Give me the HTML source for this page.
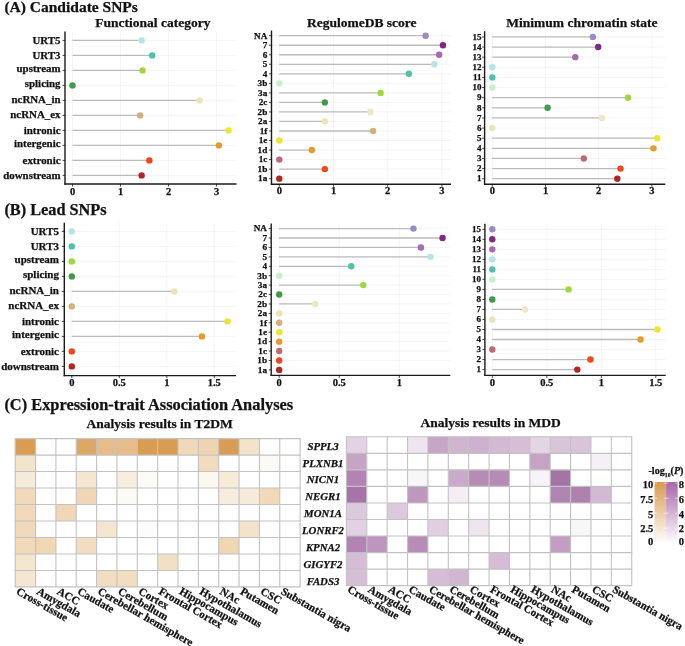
<!DOCTYPE html>
<html><head><meta charset="utf-8"><style>
html,body{margin:0;padding:0;background:#fff;width:685px;height:646px;overflow:hidden}
svg{display:block;filter:blur(0.3px)}
text{font-family:"Liberation Serif", serif;font-weight:bold;fill:#111;stroke:#111;stroke-width:0.25px}
</style></head><body>
<svg width="685" height="646" viewBox="0 0 685 646">
<rect width="685" height="646" fill="#fff"/>
<text x="4.4" y="12.3" font-size="15.5">(A) Candidate SNPs</text>
<text x="4.4" y="214.5" font-size="16.3">(B) Lead SNPs</text>
<text x="4.4" y="409.9" font-size="16.4">(C) Expression-trait Association Analyses</text>
<line x1="72.50" y1="31.50" x2="72.50" y2="184.00" stroke="#F0F0F0" stroke-width="0.7"/>
<line x1="120.50" y1="31.50" x2="120.50" y2="184.00" stroke="#F0F0F0" stroke-width="0.7"/>
<line x1="168.50" y1="31.50" x2="168.50" y2="184.00" stroke="#F0F0F0" stroke-width="0.7"/>
<line x1="216.50" y1="31.50" x2="216.50" y2="184.00" stroke="#F0F0F0" stroke-width="0.7"/>
<line x1="65.00" y1="40.40" x2="236.50" y2="40.40" stroke="#F0F0F0" stroke-width="0.7"/>
<line x1="65.00" y1="55.40" x2="236.50" y2="55.40" stroke="#F0F0F0" stroke-width="0.7"/>
<line x1="65.00" y1="70.40" x2="236.50" y2="70.40" stroke="#F0F0F0" stroke-width="0.7"/>
<line x1="65.00" y1="85.40" x2="236.50" y2="85.40" stroke="#F0F0F0" stroke-width="0.7"/>
<line x1="65.00" y1="100.40" x2="236.50" y2="100.40" stroke="#F0F0F0" stroke-width="0.7"/>
<line x1="65.00" y1="115.40" x2="236.50" y2="115.40" stroke="#F0F0F0" stroke-width="0.7"/>
<line x1="65.00" y1="130.40" x2="236.50" y2="130.40" stroke="#F0F0F0" stroke-width="0.7"/>
<line x1="65.00" y1="145.40" x2="236.50" y2="145.40" stroke="#F0F0F0" stroke-width="0.7"/>
<line x1="65.00" y1="160.40" x2="236.50" y2="160.40" stroke="#F0F0F0" stroke-width="0.7"/>
<line x1="65.00" y1="175.40" x2="236.50" y2="175.40" stroke="#F0F0F0" stroke-width="0.7"/>
<line x1="72.50" y1="40.40" x2="141.62" y2="40.40" stroke="#BBBBBB" stroke-width="1.3"/>
<circle cx="141.62" cy="40.40" r="3.2" fill="#B5E5E6"/>
<line x1="72.50" y1="55.40" x2="152.18" y2="55.40" stroke="#BBBBBB" stroke-width="1.3"/>
<circle cx="152.18" cy="55.40" r="3.2" fill="#4FC1AA"/>
<line x1="72.50" y1="70.40" x2="142.58" y2="70.40" stroke="#BBBBBB" stroke-width="1.3"/>
<circle cx="142.58" cy="70.40" r="3.2" fill="#9ED93A"/>
<circle cx="72.50" cy="85.40" r="3.2" fill="#3F9A4C"/>
<line x1="72.50" y1="100.40" x2="199.70" y2="100.40" stroke="#BBBBBB" stroke-width="1.3"/>
<circle cx="199.70" cy="100.40" r="3.2" fill="#EDE3B8"/>
<line x1="72.50" y1="115.40" x2="140.18" y2="115.40" stroke="#BBBBBB" stroke-width="1.3"/>
<circle cx="140.18" cy="115.40" r="3.2" fill="#D4B07E"/>
<line x1="72.50" y1="130.40" x2="228.50" y2="130.40" stroke="#BBBBBB" stroke-width="1.3"/>
<circle cx="228.50" cy="130.40" r="3.2" fill="#EAE632"/>
<line x1="72.50" y1="145.40" x2="218.90" y2="145.40" stroke="#BBBBBB" stroke-width="1.3"/>
<circle cx="218.90" cy="145.40" r="3.2" fill="#E99A2C"/>
<line x1="72.50" y1="160.40" x2="149.30" y2="160.40" stroke="#BBBBBB" stroke-width="1.3"/>
<circle cx="149.30" cy="160.40" r="3.2" fill="#F2451C"/>
<line x1="72.50" y1="175.40" x2="141.62" y2="175.40" stroke="#BBBBBB" stroke-width="1.3"/>
<circle cx="141.62" cy="175.40" r="3.2" fill="#B22525"/>
<line x1="65.00" y1="31.50" x2="65.00" y2="184.70" stroke="#1a1a1a" stroke-width="1.4"/>
<line x1="64.30" y1="184.00" x2="236.50" y2="184.00" stroke="#1a1a1a" stroke-width="1.4"/>
<line x1="62.50" y1="40.40" x2="65.00" y2="40.40" stroke="#1a1a1a" stroke-width="0.8"/>
<text x="60.50" y="43.72" font-size="10.9" text-anchor="end">URT5</text>
<line x1="62.50" y1="55.40" x2="65.00" y2="55.40" stroke="#1a1a1a" stroke-width="0.8"/>
<text x="60.50" y="58.72" font-size="10.9" text-anchor="end">URT3</text>
<line x1="62.50" y1="70.40" x2="65.00" y2="70.40" stroke="#1a1a1a" stroke-width="0.8"/>
<text x="60.50" y="71.71" font-size="10.9" text-anchor="end">upstream</text>
<line x1="62.50" y1="85.40" x2="65.00" y2="85.40" stroke="#1a1a1a" stroke-width="0.8"/>
<text x="60.50" y="86.71" font-size="10.9" text-anchor="end">splicing</text>
<line x1="62.50" y1="100.40" x2="65.00" y2="100.40" stroke="#1a1a1a" stroke-width="0.8"/>
<text x="60.50" y="102.96" font-size="10.9" text-anchor="end">ncRNA_in</text>
<line x1="62.50" y1="115.40" x2="65.00" y2="115.40" stroke="#1a1a1a" stroke-width="0.8"/>
<text x="60.50" y="117.96" font-size="10.9" text-anchor="end">ncRNA_ex</text>
<line x1="62.50" y1="130.40" x2="65.00" y2="130.40" stroke="#1a1a1a" stroke-width="0.8"/>
<text x="60.50" y="133.72" font-size="10.9" text-anchor="end">intronic</text>
<line x1="62.50" y1="145.40" x2="65.00" y2="145.40" stroke="#1a1a1a" stroke-width="0.8"/>
<text x="60.50" y="146.71" font-size="10.9" text-anchor="end">intergenic</text>
<line x1="62.50" y1="160.40" x2="65.00" y2="160.40" stroke="#1a1a1a" stroke-width="0.8"/>
<text x="60.50" y="163.72" font-size="10.9" text-anchor="end">extronic</text>
<line x1="62.50" y1="175.40" x2="65.00" y2="175.40" stroke="#1a1a1a" stroke-width="0.8"/>
<text x="60.50" y="178.72" font-size="10.9" text-anchor="end">downstream</text>
<line x1="72.50" y1="184.00" x2="72.50" y2="186.50" stroke="#1a1a1a" stroke-width="0.8"/>
<text x="72.50" y="195.00" font-size="10.5" text-anchor="middle">0</text>
<line x1="120.50" y1="184.00" x2="120.50" y2="186.50" stroke="#1a1a1a" stroke-width="0.8"/>
<text x="120.50" y="195.00" font-size="10.5" text-anchor="middle">1</text>
<line x1="168.50" y1="184.00" x2="168.50" y2="186.50" stroke="#1a1a1a" stroke-width="0.8"/>
<text x="168.50" y="195.00" font-size="10.5" text-anchor="middle">2</text>
<line x1="216.50" y1="184.00" x2="216.50" y2="186.50" stroke="#1a1a1a" stroke-width="0.8"/>
<text x="216.50" y="195.00" font-size="10.5" text-anchor="middle">3</text>
<text x="152.90" y="26.80" font-size="13.5" text-anchor="middle">Functional category</text>
<line x1="279.30" y1="30.50" x2="279.30" y2="184.30" stroke="#F0F0F0" stroke-width="0.7"/>
<line x1="333.50" y1="30.50" x2="333.50" y2="184.30" stroke="#F0F0F0" stroke-width="0.7"/>
<line x1="387.70" y1="30.50" x2="387.70" y2="184.30" stroke="#F0F0F0" stroke-width="0.7"/>
<line x1="441.90" y1="30.50" x2="441.90" y2="184.30" stroke="#F0F0F0" stroke-width="0.7"/>
<line x1="271.50" y1="35.70" x2="451.00" y2="35.70" stroke="#F0F0F0" stroke-width="0.7"/>
<line x1="271.50" y1="45.23" x2="451.00" y2="45.23" stroke="#F0F0F0" stroke-width="0.7"/>
<line x1="271.50" y1="54.76" x2="451.00" y2="54.76" stroke="#F0F0F0" stroke-width="0.7"/>
<line x1="271.50" y1="64.29" x2="451.00" y2="64.29" stroke="#F0F0F0" stroke-width="0.7"/>
<line x1="271.50" y1="73.82" x2="451.00" y2="73.82" stroke="#F0F0F0" stroke-width="0.7"/>
<line x1="271.50" y1="83.35" x2="451.00" y2="83.35" stroke="#F0F0F0" stroke-width="0.7"/>
<line x1="271.50" y1="92.88" x2="451.00" y2="92.88" stroke="#F0F0F0" stroke-width="0.7"/>
<line x1="271.50" y1="102.41" x2="451.00" y2="102.41" stroke="#F0F0F0" stroke-width="0.7"/>
<line x1="271.50" y1="111.94" x2="451.00" y2="111.94" stroke="#F0F0F0" stroke-width="0.7"/>
<line x1="271.50" y1="121.47" x2="451.00" y2="121.47" stroke="#F0F0F0" stroke-width="0.7"/>
<line x1="271.50" y1="131.00" x2="451.00" y2="131.00" stroke="#F0F0F0" stroke-width="0.7"/>
<line x1="271.50" y1="140.53" x2="451.00" y2="140.53" stroke="#F0F0F0" stroke-width="0.7"/>
<line x1="271.50" y1="150.06" x2="451.00" y2="150.06" stroke="#F0F0F0" stroke-width="0.7"/>
<line x1="271.50" y1="159.59" x2="451.00" y2="159.59" stroke="#F0F0F0" stroke-width="0.7"/>
<line x1="271.50" y1="169.12" x2="451.00" y2="169.12" stroke="#F0F0F0" stroke-width="0.7"/>
<line x1="271.50" y1="178.65" x2="451.00" y2="178.65" stroke="#F0F0F0" stroke-width="0.7"/>
<line x1="279.30" y1="35.70" x2="425.64" y2="35.70" stroke="#BBBBBB" stroke-width="1.3"/>
<circle cx="425.64" cy="35.70" r="3.2" fill="#9D89C5"/>
<line x1="279.30" y1="45.23" x2="442.98" y2="45.23" stroke="#BBBBBB" stroke-width="1.3"/>
<circle cx="442.98" cy="45.23" r="3.2" fill="#7E2A7E"/>
<line x1="279.30" y1="54.76" x2="439.19" y2="54.76" stroke="#BBBBBB" stroke-width="1.3"/>
<circle cx="439.19" cy="54.76" r="3.2" fill="#A86AAE"/>
<line x1="279.30" y1="64.29" x2="434.31" y2="64.29" stroke="#BBBBBB" stroke-width="1.3"/>
<circle cx="434.31" cy="64.29" r="3.2" fill="#B5E5E6"/>
<line x1="279.30" y1="73.82" x2="408.84" y2="73.82" stroke="#BBBBBB" stroke-width="1.3"/>
<circle cx="408.84" cy="73.82" r="3.2" fill="#4FC1AA"/>
<circle cx="279.30" cy="83.35" r="3.2" fill="#C8EFCF"/>
<line x1="279.30" y1="92.88" x2="380.65" y2="92.88" stroke="#BBBBBB" stroke-width="1.3"/>
<circle cx="380.65" cy="92.88" r="3.2" fill="#9ED93A"/>
<line x1="279.30" y1="102.41" x2="324.83" y2="102.41" stroke="#BBBBBB" stroke-width="1.3"/>
<circle cx="324.83" cy="102.41" r="3.2" fill="#3F9A4C"/>
<line x1="279.30" y1="111.94" x2="370.36" y2="111.94" stroke="#BBBBBB" stroke-width="1.3"/>
<circle cx="370.36" cy="111.94" r="3.2" fill="#F4E4C4"/>
<line x1="279.30" y1="121.47" x2="324.83" y2="121.47" stroke="#BBBBBB" stroke-width="1.3"/>
<circle cx="324.83" cy="121.47" r="3.2" fill="#EDE3B8"/>
<line x1="279.30" y1="131.00" x2="373.07" y2="131.00" stroke="#BBBBBB" stroke-width="1.3"/>
<circle cx="373.07" cy="131.00" r="3.2" fill="#D4B07E"/>
<circle cx="279.30" cy="140.53" r="3.2" fill="#EAE632"/>
<line x1="279.30" y1="150.06" x2="311.82" y2="150.06" stroke="#BBBBBB" stroke-width="1.3"/>
<circle cx="311.82" cy="150.06" r="3.2" fill="#E99A2C"/>
<circle cx="279.30" cy="159.59" r="3.2" fill="#BF6A72"/>
<line x1="279.30" y1="169.12" x2="324.83" y2="169.12" stroke="#BBBBBB" stroke-width="1.3"/>
<circle cx="324.83" cy="169.12" r="3.2" fill="#F2451C"/>
<circle cx="279.30" cy="178.65" r="3.2" fill="#B22525"/>
<line x1="271.50" y1="30.50" x2="271.50" y2="185.00" stroke="#1a1a1a" stroke-width="1.4"/>
<line x1="270.80" y1="184.30" x2="451.00" y2="184.30" stroke="#1a1a1a" stroke-width="1.4"/>
<line x1="269.00" y1="35.70" x2="271.50" y2="35.70" stroke="#1a1a1a" stroke-width="0.8"/>
<text x="267.30" y="38.51" font-size="9.2" text-anchor="end">NA</text>
<line x1="269.00" y1="45.23" x2="271.50" y2="45.23" stroke="#1a1a1a" stroke-width="0.8"/>
<text x="267.30" y="48.04" font-size="9.2" text-anchor="end">7</text>
<line x1="269.00" y1="54.76" x2="271.50" y2="54.76" stroke="#1a1a1a" stroke-width="0.8"/>
<text x="267.30" y="57.57" font-size="9.2" text-anchor="end">6</text>
<line x1="269.00" y1="64.29" x2="271.50" y2="64.29" stroke="#1a1a1a" stroke-width="0.8"/>
<text x="267.30" y="67.10" font-size="9.2" text-anchor="end">5</text>
<line x1="269.00" y1="73.82" x2="271.50" y2="73.82" stroke="#1a1a1a" stroke-width="0.8"/>
<text x="267.30" y="76.63" font-size="9.2" text-anchor="end">4</text>
<line x1="269.00" y1="83.35" x2="271.50" y2="83.35" stroke="#1a1a1a" stroke-width="0.8"/>
<text x="267.30" y="86.16" font-size="9.2" text-anchor="end">3b</text>
<line x1="269.00" y1="92.88" x2="271.50" y2="92.88" stroke="#1a1a1a" stroke-width="0.8"/>
<text x="267.30" y="95.69" font-size="9.2" text-anchor="end">3a</text>
<line x1="269.00" y1="102.41" x2="271.50" y2="102.41" stroke="#1a1a1a" stroke-width="0.8"/>
<text x="267.30" y="105.22" font-size="9.2" text-anchor="end">2c</text>
<line x1="269.00" y1="111.94" x2="271.50" y2="111.94" stroke="#1a1a1a" stroke-width="0.8"/>
<text x="267.30" y="114.75" font-size="9.2" text-anchor="end">2b</text>
<line x1="269.00" y1="121.47" x2="271.50" y2="121.47" stroke="#1a1a1a" stroke-width="0.8"/>
<text x="267.30" y="124.28" font-size="9.2" text-anchor="end">2a</text>
<line x1="269.00" y1="131.00" x2="271.50" y2="131.00" stroke="#1a1a1a" stroke-width="0.8"/>
<text x="267.30" y="133.81" font-size="9.2" text-anchor="end">1f</text>
<line x1="269.00" y1="140.53" x2="271.50" y2="140.53" stroke="#1a1a1a" stroke-width="0.8"/>
<text x="267.30" y="143.34" font-size="9.2" text-anchor="end">1e</text>
<line x1="269.00" y1="150.06" x2="271.50" y2="150.06" stroke="#1a1a1a" stroke-width="0.8"/>
<text x="267.30" y="152.87" font-size="9.2" text-anchor="end">1d</text>
<line x1="269.00" y1="159.59" x2="271.50" y2="159.59" stroke="#1a1a1a" stroke-width="0.8"/>
<text x="267.30" y="162.40" font-size="9.2" text-anchor="end">1c</text>
<line x1="269.00" y1="169.12" x2="271.50" y2="169.12" stroke="#1a1a1a" stroke-width="0.8"/>
<text x="267.30" y="171.93" font-size="9.2" text-anchor="end">1b</text>
<line x1="269.00" y1="178.65" x2="271.50" y2="178.65" stroke="#1a1a1a" stroke-width="0.8"/>
<text x="267.30" y="181.46" font-size="9.2" text-anchor="end">1a</text>
<line x1="279.30" y1="184.30" x2="279.30" y2="186.80" stroke="#1a1a1a" stroke-width="0.8"/>
<text x="279.30" y="194.00" font-size="10.5" text-anchor="middle">0</text>
<line x1="333.50" y1="184.30" x2="333.50" y2="186.80" stroke="#1a1a1a" stroke-width="0.8"/>
<text x="333.50" y="194.00" font-size="10.5" text-anchor="middle">1</text>
<line x1="387.70" y1="184.30" x2="387.70" y2="186.80" stroke="#1a1a1a" stroke-width="0.8"/>
<text x="387.70" y="194.00" font-size="10.5" text-anchor="middle">2</text>
<line x1="441.90" y1="184.30" x2="441.90" y2="186.80" stroke="#1a1a1a" stroke-width="0.8"/>
<text x="441.90" y="194.00" font-size="10.5" text-anchor="middle">3</text>
<text x="361.80" y="26.80" font-size="13.5" text-anchor="middle">RegulomeDB score</text>
<line x1="492.30" y1="31.20" x2="492.30" y2="184.30" stroke="#F0F0F0" stroke-width="0.7"/>
<line x1="545.50" y1="31.20" x2="545.50" y2="184.30" stroke="#F0F0F0" stroke-width="0.7"/>
<line x1="598.70" y1="31.20" x2="598.70" y2="184.30" stroke="#F0F0F0" stroke-width="0.7"/>
<line x1="651.90" y1="31.20" x2="651.90" y2="184.30" stroke="#F0F0F0" stroke-width="0.7"/>
<line x1="484.60" y1="36.90" x2="665.30" y2="36.90" stroke="#F0F0F0" stroke-width="0.7"/>
<line x1="484.60" y1="47.03" x2="665.30" y2="47.03" stroke="#F0F0F0" stroke-width="0.7"/>
<line x1="484.60" y1="57.16" x2="665.30" y2="57.16" stroke="#F0F0F0" stroke-width="0.7"/>
<line x1="484.60" y1="67.29" x2="665.30" y2="67.29" stroke="#F0F0F0" stroke-width="0.7"/>
<line x1="484.60" y1="77.42" x2="665.30" y2="77.42" stroke="#F0F0F0" stroke-width="0.7"/>
<line x1="484.60" y1="87.55" x2="665.30" y2="87.55" stroke="#F0F0F0" stroke-width="0.7"/>
<line x1="484.60" y1="97.68" x2="665.30" y2="97.68" stroke="#F0F0F0" stroke-width="0.7"/>
<line x1="484.60" y1="107.81" x2="665.30" y2="107.81" stroke="#F0F0F0" stroke-width="0.7"/>
<line x1="484.60" y1="117.94" x2="665.30" y2="117.94" stroke="#F0F0F0" stroke-width="0.7"/>
<line x1="484.60" y1="128.07" x2="665.30" y2="128.07" stroke="#F0F0F0" stroke-width="0.7"/>
<line x1="484.60" y1="138.20" x2="665.30" y2="138.20" stroke="#F0F0F0" stroke-width="0.7"/>
<line x1="484.60" y1="148.33" x2="665.30" y2="148.33" stroke="#F0F0F0" stroke-width="0.7"/>
<line x1="484.60" y1="158.46" x2="665.30" y2="158.46" stroke="#F0F0F0" stroke-width="0.7"/>
<line x1="484.60" y1="168.59" x2="665.30" y2="168.59" stroke="#F0F0F0" stroke-width="0.7"/>
<line x1="484.60" y1="178.72" x2="665.30" y2="178.72" stroke="#F0F0F0" stroke-width="0.7"/>
<line x1="492.30" y1="36.90" x2="592.85" y2="36.90" stroke="#BBBBBB" stroke-width="1.3"/>
<circle cx="592.85" cy="36.90" r="3.2" fill="#9D89C5"/>
<line x1="492.30" y1="47.03" x2="598.17" y2="47.03" stroke="#BBBBBB" stroke-width="1.3"/>
<circle cx="598.17" cy="47.03" r="3.2" fill="#7E2A7E"/>
<line x1="492.30" y1="57.16" x2="575.29" y2="57.16" stroke="#BBBBBB" stroke-width="1.3"/>
<circle cx="575.29" cy="57.16" r="3.2" fill="#A86AAE"/>
<circle cx="492.30" cy="67.29" r="3.2" fill="#B5E5E6"/>
<circle cx="492.30" cy="77.42" r="3.2" fill="#4FC1AA"/>
<circle cx="492.30" cy="87.55" r="3.2" fill="#C8EFCF"/>
<line x1="492.30" y1="97.68" x2="627.96" y2="97.68" stroke="#BBBBBB" stroke-width="1.3"/>
<circle cx="627.96" cy="97.68" r="3.2" fill="#9ED93A"/>
<line x1="492.30" y1="107.81" x2="547.63" y2="107.81" stroke="#BBBBBB" stroke-width="1.3"/>
<circle cx="547.63" cy="107.81" r="3.2" fill="#3F9A4C"/>
<line x1="492.30" y1="117.94" x2="601.89" y2="117.94" stroke="#BBBBBB" stroke-width="1.3"/>
<circle cx="601.89" cy="117.94" r="3.2" fill="#F4E4C4"/>
<circle cx="492.30" cy="128.07" r="3.2" fill="#EDE3B8"/>
<line x1="492.30" y1="138.20" x2="657.22" y2="138.20" stroke="#BBBBBB" stroke-width="1.3"/>
<circle cx="657.22" cy="138.20" r="3.2" fill="#EAE632"/>
<line x1="492.30" y1="148.33" x2="653.50" y2="148.33" stroke="#BBBBBB" stroke-width="1.3"/>
<circle cx="653.50" cy="148.33" r="3.2" fill="#E99A2C"/>
<line x1="492.30" y1="158.46" x2="583.80" y2="158.46" stroke="#BBBBBB" stroke-width="1.3"/>
<circle cx="583.80" cy="158.46" r="3.2" fill="#BF6A72"/>
<line x1="492.30" y1="168.59" x2="620.51" y2="168.59" stroke="#BBBBBB" stroke-width="1.3"/>
<circle cx="620.51" cy="168.59" r="3.2" fill="#F2451C"/>
<line x1="492.30" y1="178.72" x2="617.32" y2="178.72" stroke="#BBBBBB" stroke-width="1.3"/>
<circle cx="617.32" cy="178.72" r="3.2" fill="#B22525"/>
<line x1="484.60" y1="31.20" x2="484.60" y2="185.00" stroke="#1a1a1a" stroke-width="1.4"/>
<line x1="483.90" y1="184.30" x2="665.30" y2="184.30" stroke="#1a1a1a" stroke-width="1.4"/>
<line x1="482.10" y1="36.90" x2="484.60" y2="36.90" stroke="#1a1a1a" stroke-width="0.8"/>
<text x="481.40" y="39.64" font-size="9.0" text-anchor="end">15</text>
<line x1="482.10" y1="47.03" x2="484.60" y2="47.03" stroke="#1a1a1a" stroke-width="0.8"/>
<text x="481.40" y="49.77" font-size="9.0" text-anchor="end">14</text>
<line x1="482.10" y1="57.16" x2="484.60" y2="57.16" stroke="#1a1a1a" stroke-width="0.8"/>
<text x="481.40" y="59.90" font-size="9.0" text-anchor="end">13</text>
<line x1="482.10" y1="67.29" x2="484.60" y2="67.29" stroke="#1a1a1a" stroke-width="0.8"/>
<text x="481.40" y="70.03" font-size="9.0" text-anchor="end">12</text>
<line x1="482.10" y1="77.42" x2="484.60" y2="77.42" stroke="#1a1a1a" stroke-width="0.8"/>
<text x="481.40" y="80.17" font-size="9.0" text-anchor="end">11</text>
<line x1="482.10" y1="87.55" x2="484.60" y2="87.55" stroke="#1a1a1a" stroke-width="0.8"/>
<text x="481.40" y="90.30" font-size="9.0" text-anchor="end">10</text>
<line x1="482.10" y1="97.68" x2="484.60" y2="97.68" stroke="#1a1a1a" stroke-width="0.8"/>
<text x="481.40" y="100.43" font-size="9.0" text-anchor="end">9</text>
<line x1="482.10" y1="107.81" x2="484.60" y2="107.81" stroke="#1a1a1a" stroke-width="0.8"/>
<text x="481.40" y="110.56" font-size="9.0" text-anchor="end">8</text>
<line x1="482.10" y1="117.94" x2="484.60" y2="117.94" stroke="#1a1a1a" stroke-width="0.8"/>
<text x="481.40" y="120.69" font-size="9.0" text-anchor="end">7</text>
<line x1="482.10" y1="128.07" x2="484.60" y2="128.07" stroke="#1a1a1a" stroke-width="0.8"/>
<text x="481.40" y="130.81" font-size="9.0" text-anchor="end">6</text>
<line x1="482.10" y1="138.20" x2="484.60" y2="138.20" stroke="#1a1a1a" stroke-width="0.8"/>
<text x="481.40" y="140.95" font-size="9.0" text-anchor="end">5</text>
<line x1="482.10" y1="148.33" x2="484.60" y2="148.33" stroke="#1a1a1a" stroke-width="0.8"/>
<text x="481.40" y="151.08" font-size="9.0" text-anchor="end">4</text>
<line x1="482.10" y1="158.46" x2="484.60" y2="158.46" stroke="#1a1a1a" stroke-width="0.8"/>
<text x="481.40" y="161.21" font-size="9.0" text-anchor="end">3</text>
<line x1="482.10" y1="168.59" x2="484.60" y2="168.59" stroke="#1a1a1a" stroke-width="0.8"/>
<text x="481.40" y="171.34" font-size="9.0" text-anchor="end">2</text>
<line x1="482.10" y1="178.72" x2="484.60" y2="178.72" stroke="#1a1a1a" stroke-width="0.8"/>
<text x="481.40" y="181.47" font-size="9.0" text-anchor="end">1</text>
<line x1="492.30" y1="184.30" x2="492.30" y2="186.80" stroke="#1a1a1a" stroke-width="0.8"/>
<text x="492.30" y="194.00" font-size="10.5" text-anchor="middle">0</text>
<line x1="545.50" y1="184.30" x2="545.50" y2="186.80" stroke="#1a1a1a" stroke-width="0.8"/>
<text x="545.50" y="194.00" font-size="10.5" text-anchor="middle">1</text>
<line x1="598.70" y1="184.30" x2="598.70" y2="186.80" stroke="#1a1a1a" stroke-width="0.8"/>
<text x="598.70" y="194.00" font-size="10.5" text-anchor="middle">2</text>
<line x1="651.90" y1="184.30" x2="651.90" y2="186.80" stroke="#1a1a1a" stroke-width="0.8"/>
<text x="651.90" y="194.00" font-size="10.5" text-anchor="middle">3</text>
<text x="581.90" y="26.80" font-size="13.5" text-anchor="middle">Minimum chromatin state</text>
<line x1="71.80" y1="222.80" x2="71.80" y2="375.60" stroke="#F0F0F0" stroke-width="0.7"/>
<line x1="119.30" y1="222.80" x2="119.30" y2="375.60" stroke="#F0F0F0" stroke-width="0.7"/>
<line x1="166.80" y1="222.80" x2="166.80" y2="375.60" stroke="#F0F0F0" stroke-width="0.7"/>
<line x1="214.30" y1="222.80" x2="214.30" y2="375.60" stroke="#F0F0F0" stroke-width="0.7"/>
<line x1="64.30" y1="231.40" x2="236.00" y2="231.40" stroke="#F0F0F0" stroke-width="0.7"/>
<line x1="64.30" y1="246.40" x2="236.00" y2="246.40" stroke="#F0F0F0" stroke-width="0.7"/>
<line x1="64.30" y1="261.40" x2="236.00" y2="261.40" stroke="#F0F0F0" stroke-width="0.7"/>
<line x1="64.30" y1="276.40" x2="236.00" y2="276.40" stroke="#F0F0F0" stroke-width="0.7"/>
<line x1="64.30" y1="291.40" x2="236.00" y2="291.40" stroke="#F0F0F0" stroke-width="0.7"/>
<line x1="64.30" y1="306.40" x2="236.00" y2="306.40" stroke="#F0F0F0" stroke-width="0.7"/>
<line x1="64.30" y1="321.40" x2="236.00" y2="321.40" stroke="#F0F0F0" stroke-width="0.7"/>
<line x1="64.30" y1="336.40" x2="236.00" y2="336.40" stroke="#F0F0F0" stroke-width="0.7"/>
<line x1="64.30" y1="351.40" x2="236.00" y2="351.40" stroke="#F0F0F0" stroke-width="0.7"/>
<line x1="64.30" y1="366.40" x2="236.00" y2="366.40" stroke="#F0F0F0" stroke-width="0.7"/>
<circle cx="71.80" cy="231.40" r="3.2" fill="#B5E5E6"/>
<circle cx="71.80" cy="246.40" r="3.2" fill="#4FC1AA"/>
<circle cx="71.80" cy="261.40" r="3.2" fill="#9ED93A"/>
<circle cx="71.80" cy="276.40" r="3.2" fill="#3F9A4C"/>
<line x1="71.80" y1="291.40" x2="174.40" y2="291.40" stroke="#BBBBBB" stroke-width="1.3"/>
<circle cx="174.40" cy="291.40" r="3.2" fill="#EDE3B8"/>
<circle cx="71.80" cy="306.40" r="3.2" fill="#D4B07E"/>
<line x1="71.80" y1="321.40" x2="227.60" y2="321.40" stroke="#BBBBBB" stroke-width="1.3"/>
<circle cx="227.60" cy="321.40" r="3.2" fill="#EAE632"/>
<line x1="71.80" y1="336.40" x2="201.95" y2="336.40" stroke="#BBBBBB" stroke-width="1.3"/>
<circle cx="201.95" cy="336.40" r="3.2" fill="#E99A2C"/>
<circle cx="71.80" cy="351.40" r="3.2" fill="#F2451C"/>
<circle cx="71.80" cy="366.40" r="3.2" fill="#B22525"/>
<line x1="64.30" y1="222.80" x2="64.30" y2="376.30" stroke="#1a1a1a" stroke-width="1.4"/>
<line x1="63.60" y1="375.60" x2="236.00" y2="375.60" stroke="#1a1a1a" stroke-width="1.4"/>
<line x1="61.80" y1="231.40" x2="64.30" y2="231.40" stroke="#1a1a1a" stroke-width="0.8"/>
<text x="59.00" y="234.75" font-size="11.0" text-anchor="end">URT5</text>
<line x1="61.80" y1="246.40" x2="64.30" y2="246.40" stroke="#1a1a1a" stroke-width="0.8"/>
<text x="59.00" y="249.75" font-size="11.0" text-anchor="end">URT3</text>
<line x1="61.80" y1="261.40" x2="64.30" y2="261.40" stroke="#1a1a1a" stroke-width="0.8"/>
<text x="59.00" y="262.72" font-size="11.0" text-anchor="end">upstream</text>
<line x1="61.80" y1="276.40" x2="64.30" y2="276.40" stroke="#1a1a1a" stroke-width="0.8"/>
<text x="59.00" y="277.72" font-size="11.0" text-anchor="end">splicing</text>
<line x1="61.80" y1="291.40" x2="64.30" y2="291.40" stroke="#1a1a1a" stroke-width="0.8"/>
<text x="59.00" y="293.98" font-size="11.0" text-anchor="end">ncRNA_in</text>
<line x1="61.80" y1="306.40" x2="64.30" y2="306.40" stroke="#1a1a1a" stroke-width="0.8"/>
<text x="59.00" y="308.98" font-size="11.0" text-anchor="end">ncRNA_ex</text>
<line x1="61.80" y1="321.40" x2="64.30" y2="321.40" stroke="#1a1a1a" stroke-width="0.8"/>
<text x="59.00" y="324.75" font-size="11.0" text-anchor="end">intronic</text>
<line x1="61.80" y1="336.40" x2="64.30" y2="336.40" stroke="#1a1a1a" stroke-width="0.8"/>
<text x="59.00" y="337.72" font-size="11.0" text-anchor="end">intergenic</text>
<line x1="61.80" y1="351.40" x2="64.30" y2="351.40" stroke="#1a1a1a" stroke-width="0.8"/>
<text x="59.00" y="354.75" font-size="11.0" text-anchor="end">extronic</text>
<line x1="61.80" y1="366.40" x2="64.30" y2="366.40" stroke="#1a1a1a" stroke-width="0.8"/>
<text x="59.00" y="369.75" font-size="11.0" text-anchor="end">downstream</text>
<line x1="71.80" y1="375.60" x2="71.80" y2="378.10" stroke="#1a1a1a" stroke-width="0.8"/>
<text x="71.80" y="385.70" font-size="10.5" text-anchor="middle">0</text>
<line x1="119.30" y1="375.60" x2="119.30" y2="378.10" stroke="#1a1a1a" stroke-width="0.8"/>
<text x="119.30" y="385.70" font-size="10.5" text-anchor="middle">0.5</text>
<line x1="166.80" y1="375.60" x2="166.80" y2="378.10" stroke="#1a1a1a" stroke-width="0.8"/>
<text x="166.80" y="385.70" font-size="10.5" text-anchor="middle">1</text>
<line x1="214.30" y1="375.60" x2="214.30" y2="378.10" stroke="#1a1a1a" stroke-width="0.8"/>
<text x="214.30" y="385.70" font-size="10.5" text-anchor="middle">1.5</text>
<line x1="279.20" y1="223.50" x2="279.20" y2="375.40" stroke="#F0F0F0" stroke-width="0.7"/>
<line x1="339.25" y1="223.50" x2="339.25" y2="375.40" stroke="#F0F0F0" stroke-width="0.7"/>
<line x1="399.30" y1="223.50" x2="399.30" y2="375.40" stroke="#F0F0F0" stroke-width="0.7"/>
<line x1="271.20" y1="228.60" x2="450.30" y2="228.60" stroke="#F0F0F0" stroke-width="0.7"/>
<line x1="271.20" y1="238.02" x2="450.30" y2="238.02" stroke="#F0F0F0" stroke-width="0.7"/>
<line x1="271.20" y1="247.44" x2="450.30" y2="247.44" stroke="#F0F0F0" stroke-width="0.7"/>
<line x1="271.20" y1="256.86" x2="450.30" y2="256.86" stroke="#F0F0F0" stroke-width="0.7"/>
<line x1="271.20" y1="266.28" x2="450.30" y2="266.28" stroke="#F0F0F0" stroke-width="0.7"/>
<line x1="271.20" y1="275.70" x2="450.30" y2="275.70" stroke="#F0F0F0" stroke-width="0.7"/>
<line x1="271.20" y1="285.12" x2="450.30" y2="285.12" stroke="#F0F0F0" stroke-width="0.7"/>
<line x1="271.20" y1="294.54" x2="450.30" y2="294.54" stroke="#F0F0F0" stroke-width="0.7"/>
<line x1="271.20" y1="303.96" x2="450.30" y2="303.96" stroke="#F0F0F0" stroke-width="0.7"/>
<line x1="271.20" y1="313.38" x2="450.30" y2="313.38" stroke="#F0F0F0" stroke-width="0.7"/>
<line x1="271.20" y1="322.80" x2="450.30" y2="322.80" stroke="#F0F0F0" stroke-width="0.7"/>
<line x1="271.20" y1="332.22" x2="450.30" y2="332.22" stroke="#F0F0F0" stroke-width="0.7"/>
<line x1="271.20" y1="341.64" x2="450.30" y2="341.64" stroke="#F0F0F0" stroke-width="0.7"/>
<line x1="271.20" y1="351.06" x2="450.30" y2="351.06" stroke="#F0F0F0" stroke-width="0.7"/>
<line x1="271.20" y1="360.48" x2="450.30" y2="360.48" stroke="#F0F0F0" stroke-width="0.7"/>
<line x1="271.20" y1="369.90" x2="450.30" y2="369.90" stroke="#F0F0F0" stroke-width="0.7"/>
<line x1="279.20" y1="228.60" x2="413.47" y2="228.60" stroke="#BBBBBB" stroke-width="1.3"/>
<circle cx="413.47" cy="228.60" r="3.2" fill="#9D89C5"/>
<line x1="279.20" y1="238.02" x2="442.54" y2="238.02" stroke="#BBBBBB" stroke-width="1.3"/>
<circle cx="442.54" cy="238.02" r="3.2" fill="#7E2A7E"/>
<line x1="279.20" y1="247.44" x2="420.92" y2="247.44" stroke="#BBBBBB" stroke-width="1.3"/>
<circle cx="420.92" cy="247.44" r="3.2" fill="#A86AAE"/>
<line x1="279.20" y1="256.86" x2="430.53" y2="256.86" stroke="#BBBBBB" stroke-width="1.3"/>
<circle cx="430.53" cy="256.86" r="3.2" fill="#B5E5E6"/>
<line x1="279.20" y1="266.28" x2="351.26" y2="266.28" stroke="#BBBBBB" stroke-width="1.3"/>
<circle cx="351.26" cy="266.28" r="3.2" fill="#4FC1AA"/>
<circle cx="279.20" cy="275.70" r="3.2" fill="#C8EFCF"/>
<line x1="279.20" y1="285.12" x2="363.27" y2="285.12" stroke="#BBBBBB" stroke-width="1.3"/>
<circle cx="363.27" cy="285.12" r="3.2" fill="#9ED93A"/>
<circle cx="279.20" cy="294.54" r="3.2" fill="#3F9A4C"/>
<line x1="279.20" y1="303.96" x2="315.23" y2="303.96" stroke="#BBBBBB" stroke-width="1.3"/>
<circle cx="315.23" cy="303.96" r="3.2" fill="#F4E4C4"/>
<circle cx="279.20" cy="313.38" r="3.2" fill="#EDE3B8"/>
<circle cx="279.20" cy="322.80" r="3.2" fill="#D4B07E"/>
<circle cx="279.20" cy="332.22" r="3.2" fill="#EAE632"/>
<circle cx="279.20" cy="341.64" r="3.2" fill="#E99A2C"/>
<circle cx="279.20" cy="351.06" r="3.2" fill="#BF6A72"/>
<circle cx="279.20" cy="360.48" r="3.2" fill="#F2451C"/>
<circle cx="279.20" cy="369.90" r="3.2" fill="#B22525"/>
<line x1="271.20" y1="223.50" x2="271.20" y2="376.10" stroke="#1a1a1a" stroke-width="1.4"/>
<line x1="270.50" y1="375.40" x2="450.30" y2="375.40" stroke="#1a1a1a" stroke-width="1.4"/>
<line x1="268.70" y1="228.60" x2="271.20" y2="228.60" stroke="#1a1a1a" stroke-width="0.8"/>
<text x="267.00" y="231.41" font-size="9.2" text-anchor="end">NA</text>
<line x1="268.70" y1="238.02" x2="271.20" y2="238.02" stroke="#1a1a1a" stroke-width="0.8"/>
<text x="267.00" y="240.83" font-size="9.2" text-anchor="end">7</text>
<line x1="268.70" y1="247.44" x2="271.20" y2="247.44" stroke="#1a1a1a" stroke-width="0.8"/>
<text x="267.00" y="250.25" font-size="9.2" text-anchor="end">6</text>
<line x1="268.70" y1="256.86" x2="271.20" y2="256.86" stroke="#1a1a1a" stroke-width="0.8"/>
<text x="267.00" y="259.67" font-size="9.2" text-anchor="end">5</text>
<line x1="268.70" y1="266.28" x2="271.20" y2="266.28" stroke="#1a1a1a" stroke-width="0.8"/>
<text x="267.00" y="269.09" font-size="9.2" text-anchor="end">4</text>
<line x1="268.70" y1="275.70" x2="271.20" y2="275.70" stroke="#1a1a1a" stroke-width="0.8"/>
<text x="267.00" y="278.51" font-size="9.2" text-anchor="end">3b</text>
<line x1="268.70" y1="285.12" x2="271.20" y2="285.12" stroke="#1a1a1a" stroke-width="0.8"/>
<text x="267.00" y="287.93" font-size="9.2" text-anchor="end">3a</text>
<line x1="268.70" y1="294.54" x2="271.20" y2="294.54" stroke="#1a1a1a" stroke-width="0.8"/>
<text x="267.00" y="297.35" font-size="9.2" text-anchor="end">2c</text>
<line x1="268.70" y1="303.96" x2="271.20" y2="303.96" stroke="#1a1a1a" stroke-width="0.8"/>
<text x="267.00" y="306.77" font-size="9.2" text-anchor="end">2b</text>
<line x1="268.70" y1="313.38" x2="271.20" y2="313.38" stroke="#1a1a1a" stroke-width="0.8"/>
<text x="267.00" y="316.19" font-size="9.2" text-anchor="end">2a</text>
<line x1="268.70" y1="322.80" x2="271.20" y2="322.80" stroke="#1a1a1a" stroke-width="0.8"/>
<text x="267.00" y="325.61" font-size="9.2" text-anchor="end">1f</text>
<line x1="268.70" y1="332.22" x2="271.20" y2="332.22" stroke="#1a1a1a" stroke-width="0.8"/>
<text x="267.00" y="335.03" font-size="9.2" text-anchor="end">1e</text>
<line x1="268.70" y1="341.64" x2="271.20" y2="341.64" stroke="#1a1a1a" stroke-width="0.8"/>
<text x="267.00" y="344.45" font-size="9.2" text-anchor="end">1d</text>
<line x1="268.70" y1="351.06" x2="271.20" y2="351.06" stroke="#1a1a1a" stroke-width="0.8"/>
<text x="267.00" y="353.87" font-size="9.2" text-anchor="end">1c</text>
<line x1="268.70" y1="360.48" x2="271.20" y2="360.48" stroke="#1a1a1a" stroke-width="0.8"/>
<text x="267.00" y="363.29" font-size="9.2" text-anchor="end">1b</text>
<line x1="268.70" y1="369.90" x2="271.20" y2="369.90" stroke="#1a1a1a" stroke-width="0.8"/>
<text x="267.00" y="372.71" font-size="9.2" text-anchor="end">1a</text>
<line x1="279.20" y1="375.40" x2="279.20" y2="377.90" stroke="#1a1a1a" stroke-width="0.8"/>
<text x="279.20" y="385.70" font-size="10.5" text-anchor="middle">0</text>
<line x1="339.25" y1="375.40" x2="339.25" y2="377.90" stroke="#1a1a1a" stroke-width="0.8"/>
<text x="339.25" y="385.70" font-size="10.5" text-anchor="middle">0.5</text>
<line x1="399.30" y1="375.40" x2="399.30" y2="377.90" stroke="#1a1a1a" stroke-width="0.8"/>
<text x="399.30" y="385.70" font-size="10.5" text-anchor="middle">1</text>
<line x1="492.30" y1="223.80" x2="492.30" y2="375.40" stroke="#F0F0F0" stroke-width="0.7"/>
<line x1="546.80" y1="223.80" x2="546.80" y2="375.40" stroke="#F0F0F0" stroke-width="0.7"/>
<line x1="601.30" y1="223.80" x2="601.30" y2="375.40" stroke="#F0F0F0" stroke-width="0.7"/>
<line x1="655.80" y1="223.80" x2="655.80" y2="375.40" stroke="#F0F0F0" stroke-width="0.7"/>
<line x1="484.90" y1="229.30" x2="665.70" y2="229.30" stroke="#F0F0F0" stroke-width="0.7"/>
<line x1="484.90" y1="239.32" x2="665.70" y2="239.32" stroke="#F0F0F0" stroke-width="0.7"/>
<line x1="484.90" y1="249.34" x2="665.70" y2="249.34" stroke="#F0F0F0" stroke-width="0.7"/>
<line x1="484.90" y1="259.36" x2="665.70" y2="259.36" stroke="#F0F0F0" stroke-width="0.7"/>
<line x1="484.90" y1="269.38" x2="665.70" y2="269.38" stroke="#F0F0F0" stroke-width="0.7"/>
<line x1="484.90" y1="279.40" x2="665.70" y2="279.40" stroke="#F0F0F0" stroke-width="0.7"/>
<line x1="484.90" y1="289.42" x2="665.70" y2="289.42" stroke="#F0F0F0" stroke-width="0.7"/>
<line x1="484.90" y1="299.44" x2="665.70" y2="299.44" stroke="#F0F0F0" stroke-width="0.7"/>
<line x1="484.90" y1="309.46" x2="665.70" y2="309.46" stroke="#F0F0F0" stroke-width="0.7"/>
<line x1="484.90" y1="319.48" x2="665.70" y2="319.48" stroke="#F0F0F0" stroke-width="0.7"/>
<line x1="484.90" y1="329.50" x2="665.70" y2="329.50" stroke="#F0F0F0" stroke-width="0.7"/>
<line x1="484.90" y1="339.52" x2="665.70" y2="339.52" stroke="#F0F0F0" stroke-width="0.7"/>
<line x1="484.90" y1="349.54" x2="665.70" y2="349.54" stroke="#F0F0F0" stroke-width="0.7"/>
<line x1="484.90" y1="359.56" x2="665.70" y2="359.56" stroke="#F0F0F0" stroke-width="0.7"/>
<line x1="484.90" y1="369.58" x2="665.70" y2="369.58" stroke="#F0F0F0" stroke-width="0.7"/>
<circle cx="492.30" cy="229.30" r="3.2" fill="#9D89C5"/>
<circle cx="492.30" cy="239.32" r="3.2" fill="#7E2A7E"/>
<circle cx="492.30" cy="249.34" r="3.2" fill="#A86AAE"/>
<circle cx="492.30" cy="259.36" r="3.2" fill="#B5E5E6"/>
<circle cx="492.30" cy="269.38" r="3.2" fill="#4FC1AA"/>
<circle cx="492.30" cy="279.40" r="3.2" fill="#C8EFCF"/>
<line x1="492.30" y1="289.42" x2="568.60" y2="289.42" stroke="#BBBBBB" stroke-width="1.3"/>
<circle cx="568.60" cy="289.42" r="3.2" fill="#9ED93A"/>
<circle cx="492.30" cy="299.44" r="3.2" fill="#3F9A4C"/>
<line x1="492.30" y1="309.46" x2="525.00" y2="309.46" stroke="#BBBBBB" stroke-width="1.3"/>
<circle cx="525.00" cy="309.46" r="3.2" fill="#F4E4C4"/>
<circle cx="492.30" cy="319.48" r="3.2" fill="#EDE3B8"/>
<line x1="492.30" y1="329.50" x2="657.43" y2="329.50" stroke="#BBBBBB" stroke-width="1.3"/>
<circle cx="657.43" cy="329.50" r="3.2" fill="#EAE632"/>
<line x1="492.30" y1="339.52" x2="640.54" y2="339.52" stroke="#BBBBBB" stroke-width="1.3"/>
<circle cx="640.54" cy="339.52" r="3.2" fill="#E99A2C"/>
<circle cx="492.30" cy="349.54" r="3.2" fill="#BF6A72"/>
<line x1="492.30" y1="359.56" x2="590.40" y2="359.56" stroke="#BBBBBB" stroke-width="1.3"/>
<circle cx="590.40" cy="359.56" r="3.2" fill="#F2451C"/>
<line x1="492.30" y1="369.58" x2="577.32" y2="369.58" stroke="#BBBBBB" stroke-width="1.3"/>
<circle cx="577.32" cy="369.58" r="3.2" fill="#B22525"/>
<line x1="484.90" y1="223.80" x2="484.90" y2="376.10" stroke="#1a1a1a" stroke-width="1.4"/>
<line x1="484.20" y1="375.40" x2="665.70" y2="375.40" stroke="#1a1a1a" stroke-width="1.4"/>
<line x1="482.40" y1="229.30" x2="484.90" y2="229.30" stroke="#1a1a1a" stroke-width="0.8"/>
<text x="480.90" y="232.05" font-size="9.0" text-anchor="end">15</text>
<line x1="482.40" y1="239.32" x2="484.90" y2="239.32" stroke="#1a1a1a" stroke-width="0.8"/>
<text x="480.90" y="242.07" font-size="9.0" text-anchor="end">14</text>
<line x1="482.40" y1="249.34" x2="484.90" y2="249.34" stroke="#1a1a1a" stroke-width="0.8"/>
<text x="480.90" y="252.09" font-size="9.0" text-anchor="end">13</text>
<line x1="482.40" y1="259.36" x2="484.90" y2="259.36" stroke="#1a1a1a" stroke-width="0.8"/>
<text x="480.90" y="262.11" font-size="9.0" text-anchor="end">12</text>
<line x1="482.40" y1="269.38" x2="484.90" y2="269.38" stroke="#1a1a1a" stroke-width="0.8"/>
<text x="480.90" y="272.12" font-size="9.0" text-anchor="end">11</text>
<line x1="482.40" y1="279.40" x2="484.90" y2="279.40" stroke="#1a1a1a" stroke-width="0.8"/>
<text x="480.90" y="282.14" font-size="9.0" text-anchor="end">10</text>
<line x1="482.40" y1="289.42" x2="484.90" y2="289.42" stroke="#1a1a1a" stroke-width="0.8"/>
<text x="480.90" y="292.17" font-size="9.0" text-anchor="end">9</text>
<line x1="482.40" y1="299.44" x2="484.90" y2="299.44" stroke="#1a1a1a" stroke-width="0.8"/>
<text x="480.90" y="302.19" font-size="9.0" text-anchor="end">8</text>
<line x1="482.40" y1="309.46" x2="484.90" y2="309.46" stroke="#1a1a1a" stroke-width="0.8"/>
<text x="480.90" y="312.21" font-size="9.0" text-anchor="end">7</text>
<line x1="482.40" y1="319.48" x2="484.90" y2="319.48" stroke="#1a1a1a" stroke-width="0.8"/>
<text x="480.90" y="322.23" font-size="9.0" text-anchor="end">6</text>
<line x1="482.40" y1="329.50" x2="484.90" y2="329.50" stroke="#1a1a1a" stroke-width="0.8"/>
<text x="480.90" y="332.25" font-size="9.0" text-anchor="end">5</text>
<line x1="482.40" y1="339.52" x2="484.90" y2="339.52" stroke="#1a1a1a" stroke-width="0.8"/>
<text x="480.90" y="342.26" font-size="9.0" text-anchor="end">4</text>
<line x1="482.40" y1="349.54" x2="484.90" y2="349.54" stroke="#1a1a1a" stroke-width="0.8"/>
<text x="480.90" y="352.29" font-size="9.0" text-anchor="end">3</text>
<line x1="482.40" y1="359.56" x2="484.90" y2="359.56" stroke="#1a1a1a" stroke-width="0.8"/>
<text x="480.90" y="362.31" font-size="9.0" text-anchor="end">2</text>
<line x1="482.40" y1="369.58" x2="484.90" y2="369.58" stroke="#1a1a1a" stroke-width="0.8"/>
<text x="480.90" y="372.33" font-size="9.0" text-anchor="end">1</text>
<line x1="492.30" y1="375.40" x2="492.30" y2="377.90" stroke="#1a1a1a" stroke-width="0.8"/>
<text x="492.30" y="385.70" font-size="10.5" text-anchor="middle">0</text>
<line x1="546.80" y1="375.40" x2="546.80" y2="377.90" stroke="#1a1a1a" stroke-width="0.8"/>
<text x="546.80" y="385.70" font-size="10.5" text-anchor="middle">0.5</text>
<line x1="601.30" y1="375.40" x2="601.30" y2="377.90" stroke="#1a1a1a" stroke-width="0.8"/>
<text x="601.30" y="385.70" font-size="10.5" text-anchor="middle">1</text>
<line x1="655.80" y1="375.40" x2="655.80" y2="377.90" stroke="#1a1a1a" stroke-width="0.8"/>
<text x="655.80" y="385.70" font-size="10.5" text-anchor="middle">1.5</text>
<rect x="15.20" y="438.60" width="20.35" height="16.48" fill="#D89D52"/>
<rect x="35.55" y="438.60" width="20.35" height="16.48" fill="#FFFFFF"/>
<rect x="55.90" y="438.60" width="20.35" height="16.48" fill="#FFFFFF"/>
<rect x="76.25" y="438.60" width="20.35" height="16.48" fill="#DDA865"/>
<rect x="96.60" y="438.60" width="20.35" height="16.48" fill="#E5BC8A"/>
<rect x="116.95" y="438.60" width="20.35" height="16.48" fill="#E5BC8A"/>
<rect x="137.30" y="438.60" width="20.35" height="16.48" fill="#D89D52"/>
<rect x="157.65" y="438.60" width="20.35" height="16.48" fill="#D89D52"/>
<rect x="178.00" y="438.60" width="20.35" height="16.48" fill="#F0D8B8"/>
<rect x="198.35" y="438.60" width="20.35" height="16.48" fill="#EFD4B0"/>
<rect x="218.70" y="438.60" width="20.35" height="16.48" fill="#D89D52"/>
<rect x="239.05" y="438.60" width="20.35" height="16.48" fill="#F3E3CB"/>
<rect x="259.40" y="438.60" width="20.35" height="16.48" fill="#FFFFFF"/>
<rect x="279.75" y="438.60" width="20.35" height="16.48" fill="#FFFFFF"/>
<rect x="15.20" y="455.08" width="20.35" height="16.48" fill="#F3E4CC"/>
<rect x="35.55" y="455.08" width="20.35" height="16.48" fill="#FFFFFF"/>
<rect x="55.90" y="455.08" width="20.35" height="16.48" fill="#FFFFFF"/>
<rect x="76.25" y="455.08" width="20.35" height="16.48" fill="#FFFFFF"/>
<rect x="96.60" y="455.08" width="20.35" height="16.48" fill="#FFFFFF"/>
<rect x="116.95" y="455.08" width="20.35" height="16.48" fill="#FFFFFF"/>
<rect x="137.30" y="455.08" width="20.35" height="16.48" fill="#FFFFFF"/>
<rect x="157.65" y="455.08" width="20.35" height="16.48" fill="#FFFFFF"/>
<rect x="178.00" y="455.08" width="20.35" height="16.48" fill="#FFFFFF"/>
<rect x="198.35" y="455.08" width="20.35" height="16.48" fill="#F0DBBA"/>
<rect x="218.70" y="455.08" width="20.35" height="16.48" fill="#FFFFFF"/>
<rect x="239.05" y="455.08" width="20.35" height="16.48" fill="#FFFFFF"/>
<rect x="259.40" y="455.08" width="20.35" height="16.48" fill="#FCFAF5"/>
<rect x="279.75" y="455.08" width="20.35" height="16.48" fill="#FFFFFF"/>
<rect x="15.20" y="471.56" width="20.35" height="16.48" fill="#F5EBDA"/>
<rect x="35.55" y="471.56" width="20.35" height="16.48" fill="#FFFFFF"/>
<rect x="55.90" y="471.56" width="20.35" height="16.48" fill="#FFFFFF"/>
<rect x="76.25" y="471.56" width="20.35" height="16.48" fill="#F4E6D0"/>
<rect x="96.60" y="471.56" width="20.35" height="16.48" fill="#FFFFFF"/>
<rect x="116.95" y="471.56" width="20.35" height="16.48" fill="#F7EEE0"/>
<rect x="137.30" y="471.56" width="20.35" height="16.48" fill="#FDFBF8"/>
<rect x="157.65" y="471.56" width="20.35" height="16.48" fill="#FFFFFF"/>
<rect x="178.00" y="471.56" width="20.35" height="16.48" fill="#FFFFFF"/>
<rect x="198.35" y="471.56" width="20.35" height="16.48" fill="#FCF8F0"/>
<rect x="218.70" y="471.56" width="20.35" height="16.48" fill="#F6EAD9"/>
<rect x="239.05" y="471.56" width="20.35" height="16.48" fill="#FFFFFF"/>
<rect x="259.40" y="471.56" width="20.35" height="16.48" fill="#FFFFFF"/>
<rect x="279.75" y="471.56" width="20.35" height="16.48" fill="#FFFFFF"/>
<rect x="15.20" y="488.04" width="20.35" height="16.48" fill="#F1D9BA"/>
<rect x="35.55" y="488.04" width="20.35" height="16.48" fill="#FFFFFF"/>
<rect x="55.90" y="488.04" width="20.35" height="16.48" fill="#FFFFFF"/>
<rect x="76.25" y="488.04" width="20.35" height="16.48" fill="#F0D6B5"/>
<rect x="96.60" y="488.04" width="20.35" height="16.48" fill="#FFFFFF"/>
<rect x="116.95" y="488.04" width="20.35" height="16.48" fill="#FDFAF5"/>
<rect x="137.30" y="488.04" width="20.35" height="16.48" fill="#FFFFFF"/>
<rect x="157.65" y="488.04" width="20.35" height="16.48" fill="#FFFFFF"/>
<rect x="178.00" y="488.04" width="20.35" height="16.48" fill="#FFFFFF"/>
<rect x="198.35" y="488.04" width="20.35" height="16.48" fill="#FFFFFF"/>
<rect x="218.70" y="488.04" width="20.35" height="16.48" fill="#F7ECDD"/>
<rect x="239.05" y="488.04" width="20.35" height="16.48" fill="#F6EBDA"/>
<rect x="259.40" y="488.04" width="20.35" height="16.48" fill="#F1D9B8"/>
<rect x="279.75" y="488.04" width="20.35" height="16.48" fill="#FFFFFF"/>
<rect x="15.20" y="504.52" width="20.35" height="16.48" fill="#F1D9BA"/>
<rect x="35.55" y="504.52" width="20.35" height="16.48" fill="#FFFFFF"/>
<rect x="55.90" y="504.52" width="20.35" height="16.48" fill="#F0D7B7"/>
<rect x="76.25" y="504.52" width="20.35" height="16.48" fill="#FFFFFF"/>
<rect x="96.60" y="504.52" width="20.35" height="16.48" fill="#FFFFFF"/>
<rect x="116.95" y="504.52" width="20.35" height="16.48" fill="#FFFFFF"/>
<rect x="137.30" y="504.52" width="20.35" height="16.48" fill="#FFFFFF"/>
<rect x="157.65" y="504.52" width="20.35" height="16.48" fill="#FFFFFF"/>
<rect x="178.00" y="504.52" width="20.35" height="16.48" fill="#FFFFFF"/>
<rect x="198.35" y="504.52" width="20.35" height="16.48" fill="#FFFFFF"/>
<rect x="218.70" y="504.52" width="20.35" height="16.48" fill="#FFFFFF"/>
<rect x="239.05" y="504.52" width="20.35" height="16.48" fill="#FFFFFF"/>
<rect x="259.40" y="504.52" width="20.35" height="16.48" fill="#FFFFFF"/>
<rect x="279.75" y="504.52" width="20.35" height="16.48" fill="#FFFFFF"/>
<rect x="15.20" y="521.00" width="20.35" height="16.48" fill="#F1DABB"/>
<rect x="35.55" y="521.00" width="20.35" height="16.48" fill="#FFFFFF"/>
<rect x="55.90" y="521.00" width="20.35" height="16.48" fill="#FFFFFF"/>
<rect x="76.25" y="521.00" width="20.35" height="16.48" fill="#FFFFFF"/>
<rect x="96.60" y="521.00" width="20.35" height="16.48" fill="#F4E5CE"/>
<rect x="116.95" y="521.00" width="20.35" height="16.48" fill="#FFFFFF"/>
<rect x="137.30" y="521.00" width="20.35" height="16.48" fill="#FEFCFA"/>
<rect x="157.65" y="521.00" width="20.35" height="16.48" fill="#FFFFFF"/>
<rect x="178.00" y="521.00" width="20.35" height="16.48" fill="#FFFFFF"/>
<rect x="198.35" y="521.00" width="20.35" height="16.48" fill="#FFFFFF"/>
<rect x="218.70" y="521.00" width="20.35" height="16.48" fill="#FFFFFF"/>
<rect x="239.05" y="521.00" width="20.35" height="16.48" fill="#F3E3CB"/>
<rect x="259.40" y="521.00" width="20.35" height="16.48" fill="#FFFFFF"/>
<rect x="279.75" y="521.00" width="20.35" height="16.48" fill="#FFFFFF"/>
<rect x="15.20" y="537.48" width="20.35" height="16.48" fill="#F1D9BA"/>
<rect x="35.55" y="537.48" width="20.35" height="16.48" fill="#F0D7B5"/>
<rect x="55.90" y="537.48" width="20.35" height="16.48" fill="#FFFFFF"/>
<rect x="76.25" y="537.48" width="20.35" height="16.48" fill="#F2DDC0"/>
<rect x="96.60" y="537.48" width="20.35" height="16.48" fill="#FFFFFF"/>
<rect x="116.95" y="537.48" width="20.35" height="16.48" fill="#FFFFFF"/>
<rect x="137.30" y="537.48" width="20.35" height="16.48" fill="#FFFFFF"/>
<rect x="157.65" y="537.48" width="20.35" height="16.48" fill="#FFFFFF"/>
<rect x="178.00" y="537.48" width="20.35" height="16.48" fill="#FFFFFF"/>
<rect x="198.35" y="537.48" width="20.35" height="16.48" fill="#FFFFFF"/>
<rect x="218.70" y="537.48" width="20.35" height="16.48" fill="#F0D6B4"/>
<rect x="239.05" y="537.48" width="20.35" height="16.48" fill="#FFFFFF"/>
<rect x="259.40" y="537.48" width="20.35" height="16.48" fill="#FFFFFF"/>
<rect x="279.75" y="537.48" width="20.35" height="16.48" fill="#FFFFFF"/>
<rect x="15.20" y="553.96" width="20.35" height="16.48" fill="#F4E5CE"/>
<rect x="35.55" y="553.96" width="20.35" height="16.48" fill="#FFFFFF"/>
<rect x="55.90" y="553.96" width="20.35" height="16.48" fill="#FFFFFF"/>
<rect x="76.25" y="553.96" width="20.35" height="16.48" fill="#FFFFFF"/>
<rect x="96.60" y="553.96" width="20.35" height="16.48" fill="#FFFFFF"/>
<rect x="116.95" y="553.96" width="20.35" height="16.48" fill="#FFFFFF"/>
<rect x="137.30" y="553.96" width="20.35" height="16.48" fill="#FFFFFF"/>
<rect x="157.65" y="553.96" width="20.35" height="16.48" fill="#F2E0C4"/>
<rect x="178.00" y="553.96" width="20.35" height="16.48" fill="#FFFFFF"/>
<rect x="198.35" y="553.96" width="20.35" height="16.48" fill="#FFFFFF"/>
<rect x="218.70" y="553.96" width="20.35" height="16.48" fill="#FFFFFF"/>
<rect x="239.05" y="553.96" width="20.35" height="16.48" fill="#FFFFFF"/>
<rect x="259.40" y="553.96" width="20.35" height="16.48" fill="#FFFFFF"/>
<rect x="279.75" y="553.96" width="20.35" height="16.48" fill="#FFFFFF"/>
<rect x="15.20" y="570.44" width="20.35" height="16.48" fill="#F4E6D0"/>
<rect x="35.55" y="570.44" width="20.35" height="16.48" fill="#FFFFFF"/>
<rect x="55.90" y="570.44" width="20.35" height="16.48" fill="#FFFFFF"/>
<rect x="76.25" y="570.44" width="20.35" height="16.48" fill="#FFFFFF"/>
<rect x="96.60" y="570.44" width="20.35" height="16.48" fill="#F1DDBF"/>
<rect x="116.95" y="570.44" width="20.35" height="16.48" fill="#F1DDBF"/>
<rect x="137.30" y="570.44" width="20.35" height="16.48" fill="#FFFFFF"/>
<rect x="157.65" y="570.44" width="20.35" height="16.48" fill="#FFFFFF"/>
<rect x="178.00" y="570.44" width="20.35" height="16.48" fill="#FFFFFF"/>
<rect x="198.35" y="570.44" width="20.35" height="16.48" fill="#FFFFFF"/>
<rect x="218.70" y="570.44" width="20.35" height="16.48" fill="#FFFFFF"/>
<rect x="239.05" y="570.44" width="20.35" height="16.48" fill="#FFFFFF"/>
<rect x="259.40" y="570.44" width="20.35" height="16.48" fill="#FFFFFF"/>
<rect x="279.75" y="570.44" width="20.35" height="16.48" fill="#FFFFFF"/>
<line x1="15.20" y1="438.60" x2="15.20" y2="586.92" stroke="#C2C2C2" stroke-width="1.1"/>
<line x1="35.55" y1="438.60" x2="35.55" y2="586.92" stroke="#C2C2C2" stroke-width="1.1"/>
<line x1="55.90" y1="438.60" x2="55.90" y2="586.92" stroke="#C2C2C2" stroke-width="1.1"/>
<line x1="76.25" y1="438.60" x2="76.25" y2="586.92" stroke="#C2C2C2" stroke-width="1.1"/>
<line x1="96.60" y1="438.60" x2="96.60" y2="586.92" stroke="#C2C2C2" stroke-width="1.1"/>
<line x1="116.95" y1="438.60" x2="116.95" y2="586.92" stroke="#C2C2C2" stroke-width="1.1"/>
<line x1="137.30" y1="438.60" x2="137.30" y2="586.92" stroke="#C2C2C2" stroke-width="1.1"/>
<line x1="157.65" y1="438.60" x2="157.65" y2="586.92" stroke="#C2C2C2" stroke-width="1.1"/>
<line x1="178.00" y1="438.60" x2="178.00" y2="586.92" stroke="#C2C2C2" stroke-width="1.1"/>
<line x1="198.35" y1="438.60" x2="198.35" y2="586.92" stroke="#C2C2C2" stroke-width="1.1"/>
<line x1="218.70" y1="438.60" x2="218.70" y2="586.92" stroke="#C2C2C2" stroke-width="1.1"/>
<line x1="239.05" y1="438.60" x2="239.05" y2="586.92" stroke="#C2C2C2" stroke-width="1.1"/>
<line x1="259.40" y1="438.60" x2="259.40" y2="586.92" stroke="#C2C2C2" stroke-width="1.1"/>
<line x1="279.75" y1="438.60" x2="279.75" y2="586.92" stroke="#C2C2C2" stroke-width="1.1"/>
<line x1="300.10" y1="438.60" x2="300.10" y2="586.92" stroke="#C2C2C2" stroke-width="1.1"/>
<line x1="14.65" y1="438.60" x2="300.65" y2="438.60" stroke="#C2C2C2" stroke-width="1.1"/>
<line x1="14.65" y1="455.08" x2="300.65" y2="455.08" stroke="#C2C2C2" stroke-width="1.1"/>
<line x1="14.65" y1="471.56" x2="300.65" y2="471.56" stroke="#C2C2C2" stroke-width="1.1"/>
<line x1="14.65" y1="488.04" x2="300.65" y2="488.04" stroke="#C2C2C2" stroke-width="1.1"/>
<line x1="14.65" y1="504.52" x2="300.65" y2="504.52" stroke="#C2C2C2" stroke-width="1.1"/>
<line x1="14.65" y1="521.00" x2="300.65" y2="521.00" stroke="#C2C2C2" stroke-width="1.1"/>
<line x1="14.65" y1="537.48" x2="300.65" y2="537.48" stroke="#C2C2C2" stroke-width="1.1"/>
<line x1="14.65" y1="553.96" x2="300.65" y2="553.96" stroke="#C2C2C2" stroke-width="1.1"/>
<line x1="14.65" y1="570.44" x2="300.65" y2="570.44" stroke="#C2C2C2" stroke-width="1.1"/>
<line x1="14.65" y1="586.92" x2="300.65" y2="586.92" stroke="#C2C2C2" stroke-width="1.1"/>
<text x="159.60" y="427.60" font-size="13.5" text-anchor="middle">Analysis results in T2DM</text>
<text transform="translate(15.60,593.50) rotate(29.5)" font-size="11.1">Cross-tissue</text>
<text transform="translate(35.95,593.50) rotate(29.5)" font-size="11.1">Amygdala</text>
<text transform="translate(56.30,593.50) rotate(29.5)" font-size="11.1">ACC</text>
<text transform="translate(76.65,593.50) rotate(29.5)" font-size="11.1">Caudate</text>
<text transform="translate(97.00,593.50) rotate(29.5)" font-size="11.1">Cerebellar hemisphere</text>
<text transform="translate(117.35,593.50) rotate(29.5)" font-size="11.1">Cerebellum</text>
<text transform="translate(137.70,593.50) rotate(29.5)" font-size="11.1">Cortex</text>
<text transform="translate(158.05,593.50) rotate(29.5)" font-size="11.1">Frontal Cortex</text>
<text transform="translate(178.40,593.50) rotate(29.5)" font-size="11.1">Hippocampus</text>
<text transform="translate(198.75,593.50) rotate(29.5)" font-size="11.1">Hypothalamus</text>
<text transform="translate(219.10,593.50) rotate(29.5)" font-size="11.1">NAc</text>
<text transform="translate(239.45,593.50) rotate(29.5)" font-size="11.1">Putamen</text>
<text transform="translate(259.80,593.50) rotate(29.5)" font-size="11.1">CSC</text>
<text transform="translate(280.15,593.50) rotate(29.5)" font-size="11.1">Substantia nigra</text>
<rect x="346.40" y="436.80" width="20.38" height="16.54" fill="#E3D2E4"/>
<rect x="366.78" y="436.80" width="20.38" height="16.54" fill="#FFFFFF"/>
<rect x="387.16" y="436.80" width="20.38" height="16.54" fill="#FFFFFF"/>
<rect x="407.54" y="436.80" width="20.38" height="16.54" fill="#EEE5EE"/>
<rect x="427.92" y="436.80" width="20.38" height="16.54" fill="#C6A5C6"/>
<rect x="448.30" y="436.80" width="20.38" height="16.54" fill="#D0B4D0"/>
<rect x="468.68" y="436.80" width="20.38" height="16.54" fill="#CEB1CE"/>
<rect x="489.06" y="436.80" width="20.38" height="16.54" fill="#D3B9D3"/>
<rect x="509.44" y="436.80" width="20.38" height="16.54" fill="#D6BFD6"/>
<rect x="529.82" y="436.80" width="20.38" height="16.54" fill="#E4D5E4"/>
<rect x="550.20" y="436.80" width="20.38" height="16.54" fill="#D9C4D9"/>
<rect x="570.58" y="436.80" width="20.38" height="16.54" fill="#D9C4D9"/>
<rect x="590.96" y="436.80" width="20.38" height="16.54" fill="#FFFFFF"/>
<rect x="611.34" y="436.80" width="20.38" height="16.54" fill="#FFFFFF"/>
<rect x="346.40" y="453.34" width="20.38" height="16.54" fill="#C6A4C6"/>
<rect x="366.78" y="453.34" width="20.38" height="16.54" fill="#FFFFFF"/>
<rect x="387.16" y="453.34" width="20.38" height="16.54" fill="#FFFFFF"/>
<rect x="407.54" y="453.34" width="20.38" height="16.54" fill="#FFFFFF"/>
<rect x="427.92" y="453.34" width="20.38" height="16.54" fill="#FFFFFF"/>
<rect x="448.30" y="453.34" width="20.38" height="16.54" fill="#FFFFFF"/>
<rect x="468.68" y="453.34" width="20.38" height="16.54" fill="#FFFFFF"/>
<rect x="489.06" y="453.34" width="20.38" height="16.54" fill="#FFFFFF"/>
<rect x="509.44" y="453.34" width="20.38" height="16.54" fill="#FFFFFF"/>
<rect x="529.82" y="453.34" width="20.38" height="16.54" fill="#C5A3C5"/>
<rect x="550.20" y="453.34" width="20.38" height="16.54" fill="#FFFFFF"/>
<rect x="570.58" y="453.34" width="20.38" height="16.54" fill="#FFFFFF"/>
<rect x="590.96" y="453.34" width="20.38" height="16.54" fill="#F5F0F5"/>
<rect x="611.34" y="453.34" width="20.38" height="16.54" fill="#FFFFFF"/>
<rect x="346.40" y="469.88" width="20.38" height="16.54" fill="#B384B3"/>
<rect x="366.78" y="469.88" width="20.38" height="16.54" fill="#FFFFFF"/>
<rect x="387.16" y="469.88" width="20.38" height="16.54" fill="#FFFFFF"/>
<rect x="407.54" y="469.88" width="20.38" height="16.54" fill="#F9F6F9"/>
<rect x="427.92" y="469.88" width="20.38" height="16.54" fill="#FFFFFF"/>
<rect x="448.30" y="469.88" width="20.38" height="16.54" fill="#CAAACA"/>
<rect x="468.68" y="469.88" width="20.38" height="16.54" fill="#B68CB6"/>
<rect x="489.06" y="469.88" width="20.38" height="16.54" fill="#B68CB6"/>
<rect x="509.44" y="469.88" width="20.38" height="16.54" fill="#FFFFFF"/>
<rect x="529.82" y="469.88" width="20.38" height="16.54" fill="#F8F3F8"/>
<rect x="550.20" y="469.88" width="20.38" height="16.54" fill="#A474A4"/>
<rect x="570.58" y="469.88" width="20.38" height="16.54" fill="#FFFFFF"/>
<rect x="590.96" y="469.88" width="20.38" height="16.54" fill="#FFFFFF"/>
<rect x="611.34" y="469.88" width="20.38" height="16.54" fill="#FFFFFF"/>
<rect x="346.40" y="486.42" width="20.38" height="16.54" fill="#A873A8"/>
<rect x="366.78" y="486.42" width="20.38" height="16.54" fill="#FFFFFF"/>
<rect x="387.16" y="486.42" width="20.38" height="16.54" fill="#FFFFFF"/>
<rect x="407.54" y="486.42" width="20.38" height="16.54" fill="#BE97BE"/>
<rect x="427.92" y="486.42" width="20.38" height="16.54" fill="#FFFFFF"/>
<rect x="448.30" y="486.42" width="20.38" height="16.54" fill="#F4EEF4"/>
<rect x="468.68" y="486.42" width="20.38" height="16.54" fill="#FFFFFF"/>
<rect x="489.06" y="486.42" width="20.38" height="16.54" fill="#FFFFFF"/>
<rect x="509.44" y="486.42" width="20.38" height="16.54" fill="#FFFFFF"/>
<rect x="529.82" y="486.42" width="20.38" height="16.54" fill="#FFFFFF"/>
<rect x="550.20" y="486.42" width="20.38" height="16.54" fill="#B185B1"/>
<rect x="570.58" y="486.42" width="20.38" height="16.54" fill="#AE81AE"/>
<rect x="590.96" y="486.42" width="20.38" height="16.54" fill="#D4B9D4"/>
<rect x="611.34" y="486.42" width="20.38" height="16.54" fill="#FFFFFF"/>
<rect x="346.40" y="502.96" width="20.38" height="16.54" fill="#DDC9DD"/>
<rect x="366.78" y="502.96" width="20.38" height="16.54" fill="#FFFFFF"/>
<rect x="387.16" y="502.96" width="20.38" height="16.54" fill="#DDC9DD"/>
<rect x="407.54" y="502.96" width="20.38" height="16.54" fill="#FFFFFF"/>
<rect x="427.92" y="502.96" width="20.38" height="16.54" fill="#FFFFFF"/>
<rect x="448.30" y="502.96" width="20.38" height="16.54" fill="#FFFFFF"/>
<rect x="468.68" y="502.96" width="20.38" height="16.54" fill="#FFFFFF"/>
<rect x="489.06" y="502.96" width="20.38" height="16.54" fill="#FFFFFF"/>
<rect x="509.44" y="502.96" width="20.38" height="16.54" fill="#FFFFFF"/>
<rect x="529.82" y="502.96" width="20.38" height="16.54" fill="#FFFFFF"/>
<rect x="550.20" y="502.96" width="20.38" height="16.54" fill="#FFFFFF"/>
<rect x="570.58" y="502.96" width="20.38" height="16.54" fill="#FFFFFF"/>
<rect x="590.96" y="502.96" width="20.38" height="16.54" fill="#FFFFFF"/>
<rect x="611.34" y="502.96" width="20.38" height="16.54" fill="#FFFFFF"/>
<rect x="346.40" y="519.50" width="20.38" height="16.54" fill="#E2D1E2"/>
<rect x="366.78" y="519.50" width="20.38" height="16.54" fill="#FFFFFF"/>
<rect x="387.16" y="519.50" width="20.38" height="16.54" fill="#FFFFFF"/>
<rect x="407.54" y="519.50" width="20.38" height="16.54" fill="#FFFFFF"/>
<rect x="427.92" y="519.50" width="20.38" height="16.54" fill="#E1CFE1"/>
<rect x="448.30" y="519.50" width="20.38" height="16.54" fill="#FFFFFF"/>
<rect x="468.68" y="519.50" width="20.38" height="16.54" fill="#EEE6EE"/>
<rect x="489.06" y="519.50" width="20.38" height="16.54" fill="#FFFFFF"/>
<rect x="509.44" y="519.50" width="20.38" height="16.54" fill="#FFFFFF"/>
<rect x="529.82" y="519.50" width="20.38" height="16.54" fill="#FFFFFF"/>
<rect x="550.20" y="519.50" width="20.38" height="16.54" fill="#FFFFFF"/>
<rect x="570.58" y="519.50" width="20.38" height="16.54" fill="#F9F6F9"/>
<rect x="590.96" y="519.50" width="20.38" height="16.54" fill="#FFFFFF"/>
<rect x="611.34" y="519.50" width="20.38" height="16.54" fill="#FFFFFF"/>
<rect x="346.40" y="536.04" width="20.38" height="16.54" fill="#B384B3"/>
<rect x="366.78" y="536.04" width="20.38" height="16.54" fill="#BE95BE"/>
<rect x="387.16" y="536.04" width="20.38" height="16.54" fill="#FFFFFF"/>
<rect x="407.54" y="536.04" width="20.38" height="16.54" fill="#B78DB7"/>
<rect x="427.92" y="536.04" width="20.38" height="16.54" fill="#FFFFFF"/>
<rect x="448.30" y="536.04" width="20.38" height="16.54" fill="#FFFFFF"/>
<rect x="468.68" y="536.04" width="20.38" height="16.54" fill="#FFFFFF"/>
<rect x="489.06" y="536.04" width="20.38" height="16.54" fill="#FFFFFF"/>
<rect x="509.44" y="536.04" width="20.38" height="16.54" fill="#FFFFFF"/>
<rect x="529.82" y="536.04" width="20.38" height="16.54" fill="#FFFFFF"/>
<rect x="550.20" y="536.04" width="20.38" height="16.54" fill="#C39DC3"/>
<rect x="570.58" y="536.04" width="20.38" height="16.54" fill="#FFFFFF"/>
<rect x="590.96" y="536.04" width="20.38" height="16.54" fill="#FFFFFF"/>
<rect x="611.34" y="536.04" width="20.38" height="16.54" fill="#FFFFFF"/>
<rect x="346.40" y="552.58" width="20.38" height="16.54" fill="#D6BCD6"/>
<rect x="366.78" y="552.58" width="20.38" height="16.54" fill="#FFFFFF"/>
<rect x="387.16" y="552.58" width="20.38" height="16.54" fill="#FFFFFF"/>
<rect x="407.54" y="552.58" width="20.38" height="16.54" fill="#FFFFFF"/>
<rect x="427.92" y="552.58" width="20.38" height="16.54" fill="#FFFFFF"/>
<rect x="448.30" y="552.58" width="20.38" height="16.54" fill="#FFFFFF"/>
<rect x="468.68" y="552.58" width="20.38" height="16.54" fill="#FFFFFF"/>
<rect x="489.06" y="552.58" width="20.38" height="16.54" fill="#D6BCD6"/>
<rect x="509.44" y="552.58" width="20.38" height="16.54" fill="#FFFFFF"/>
<rect x="529.82" y="552.58" width="20.38" height="16.54" fill="#FFFFFF"/>
<rect x="550.20" y="552.58" width="20.38" height="16.54" fill="#FFFFFF"/>
<rect x="570.58" y="552.58" width="20.38" height="16.54" fill="#FFFFFF"/>
<rect x="590.96" y="552.58" width="20.38" height="16.54" fill="#FFFFFF"/>
<rect x="611.34" y="552.58" width="20.38" height="16.54" fill="#FFFFFF"/>
<rect x="346.40" y="569.12" width="20.38" height="16.54" fill="#D6BED6"/>
<rect x="366.78" y="569.12" width="20.38" height="16.54" fill="#FFFFFF"/>
<rect x="387.16" y="569.12" width="20.38" height="16.54" fill="#FFFFFF"/>
<rect x="407.54" y="569.12" width="20.38" height="16.54" fill="#FFFFFF"/>
<rect x="427.92" y="569.12" width="20.38" height="16.54" fill="#D6BCD6"/>
<rect x="448.30" y="569.12" width="20.38" height="16.54" fill="#D1B5D1"/>
<rect x="468.68" y="569.12" width="20.38" height="16.54" fill="#FFFFFF"/>
<rect x="489.06" y="569.12" width="20.38" height="16.54" fill="#FFFFFF"/>
<rect x="509.44" y="569.12" width="20.38" height="16.54" fill="#FFFFFF"/>
<rect x="529.82" y="569.12" width="20.38" height="16.54" fill="#FFFFFF"/>
<rect x="550.20" y="569.12" width="20.38" height="16.54" fill="#FFFFFF"/>
<rect x="570.58" y="569.12" width="20.38" height="16.54" fill="#FFFFFF"/>
<rect x="590.96" y="569.12" width="20.38" height="16.54" fill="#FFFFFF"/>
<rect x="611.34" y="569.12" width="20.38" height="16.54" fill="#FFFFFF"/>
<line x1="346.40" y1="436.80" x2="346.40" y2="585.66" stroke="#C2C2C2" stroke-width="1.1"/>
<line x1="366.78" y1="436.80" x2="366.78" y2="585.66" stroke="#C2C2C2" stroke-width="1.1"/>
<line x1="387.16" y1="436.80" x2="387.16" y2="585.66" stroke="#C2C2C2" stroke-width="1.1"/>
<line x1="407.54" y1="436.80" x2="407.54" y2="585.66" stroke="#C2C2C2" stroke-width="1.1"/>
<line x1="427.92" y1="436.80" x2="427.92" y2="585.66" stroke="#C2C2C2" stroke-width="1.1"/>
<line x1="448.30" y1="436.80" x2="448.30" y2="585.66" stroke="#C2C2C2" stroke-width="1.1"/>
<line x1="468.68" y1="436.80" x2="468.68" y2="585.66" stroke="#C2C2C2" stroke-width="1.1"/>
<line x1="489.06" y1="436.80" x2="489.06" y2="585.66" stroke="#C2C2C2" stroke-width="1.1"/>
<line x1="509.44" y1="436.80" x2="509.44" y2="585.66" stroke="#C2C2C2" stroke-width="1.1"/>
<line x1="529.82" y1="436.80" x2="529.82" y2="585.66" stroke="#C2C2C2" stroke-width="1.1"/>
<line x1="550.20" y1="436.80" x2="550.20" y2="585.66" stroke="#C2C2C2" stroke-width="1.1"/>
<line x1="570.58" y1="436.80" x2="570.58" y2="585.66" stroke="#C2C2C2" stroke-width="1.1"/>
<line x1="590.96" y1="436.80" x2="590.96" y2="585.66" stroke="#C2C2C2" stroke-width="1.1"/>
<line x1="611.34" y1="436.80" x2="611.34" y2="585.66" stroke="#C2C2C2" stroke-width="1.1"/>
<line x1="631.72" y1="436.80" x2="631.72" y2="585.66" stroke="#C2C2C2" stroke-width="1.1"/>
<line x1="345.85" y1="436.80" x2="632.27" y2="436.80" stroke="#C2C2C2" stroke-width="1.1"/>
<line x1="345.85" y1="453.34" x2="632.27" y2="453.34" stroke="#C2C2C2" stroke-width="1.1"/>
<line x1="345.85" y1="469.88" x2="632.27" y2="469.88" stroke="#C2C2C2" stroke-width="1.1"/>
<line x1="345.85" y1="486.42" x2="632.27" y2="486.42" stroke="#C2C2C2" stroke-width="1.1"/>
<line x1="345.85" y1="502.96" x2="632.27" y2="502.96" stroke="#C2C2C2" stroke-width="1.1"/>
<line x1="345.85" y1="519.50" x2="632.27" y2="519.50" stroke="#C2C2C2" stroke-width="1.1"/>
<line x1="345.85" y1="536.04" x2="632.27" y2="536.04" stroke="#C2C2C2" stroke-width="1.1"/>
<line x1="345.85" y1="552.58" x2="632.27" y2="552.58" stroke="#C2C2C2" stroke-width="1.1"/>
<line x1="345.85" y1="569.12" x2="632.27" y2="569.12" stroke="#C2C2C2" stroke-width="1.1"/>
<line x1="345.85" y1="585.66" x2="632.27" y2="585.66" stroke="#C2C2C2" stroke-width="1.1"/>
<text x="490.60" y="427.00" font-size="13.5" text-anchor="middle">Analysis results in MDD</text>
<text transform="translate(346.80,591.50) rotate(29.5)" font-size="11.1">Cross-tissue</text>
<text transform="translate(367.18,591.50) rotate(29.5)" font-size="11.1">Amygdala</text>
<text transform="translate(387.56,591.50) rotate(29.5)" font-size="11.1">ACC</text>
<text transform="translate(407.94,591.50) rotate(29.5)" font-size="11.1">Caudate</text>
<text transform="translate(428.32,591.50) rotate(29.5)" font-size="11.1">Cerebellar hemisphere</text>
<text transform="translate(448.70,591.50) rotate(29.5)" font-size="11.1">Cerebellum</text>
<text transform="translate(469.08,591.50) rotate(29.5)" font-size="11.1">Cortex</text>
<text transform="translate(489.46,591.50) rotate(29.5)" font-size="11.1">Frontal Cortex</text>
<text transform="translate(509.84,591.50) rotate(29.5)" font-size="11.1">Hippocampus</text>
<text transform="translate(530.22,591.50) rotate(29.5)" font-size="11.1">Hypothalamus</text>
<text transform="translate(550.60,591.50) rotate(29.5)" font-size="11.1">NAc</text>
<text transform="translate(570.98,591.50) rotate(29.5)" font-size="11.1">Putamen</text>
<text transform="translate(591.36,591.50) rotate(29.5)" font-size="11.1">CSC</text>
<text transform="translate(611.74,591.50) rotate(29.5)" font-size="11.1">Substantia nigra</text>
<text x="323.0" y="449.70" font-size="10.8" font-style="italic" text-anchor="middle">SPPL3</text>
<text x="323.0" y="466.55" font-size="10.8" font-style="italic" text-anchor="middle">PLXNB1</text>
<text x="323.0" y="483.40" font-size="10.8" font-style="italic" text-anchor="middle">NICN1</text>
<text x="323.0" y="500.25" font-size="10.8" font-style="italic" text-anchor="middle">NEGR1</text>
<text x="323.0" y="517.10" font-size="10.8" font-style="italic" text-anchor="middle">MON1A</text>
<text x="323.0" y="533.95" font-size="10.8" font-style="italic" text-anchor="middle">LONRF2</text>
<text x="323.0" y="550.80" font-size="10.8" font-style="italic" text-anchor="middle">KPNA2</text>
<text x="323.0" y="567.65" font-size="10.8" font-style="italic" text-anchor="middle">GIGYF2</text>
<text x="323.0" y="584.50" font-size="10.8" font-style="italic" text-anchor="middle">FADS3</text>
<defs>
<linearGradient id="go" x1="0" y1="0" x2="0" y2="1"><stop offset="0" stop-color="#D89A4E"/><stop offset="1" stop-color="#FFFFFF"/></linearGradient>
<linearGradient id="gp" x1="0" y1="0" x2="0" y2="1"><stop offset="0" stop-color="#A866A8"/><stop offset="1" stop-color="#FFFFFF"/></linearGradient>
</defs>
<rect x="654.5" y="482.0" width="11.6" height="61.5" fill="url(#go)"/>
<rect x="666.1" y="482.0" width="11.6" height="61.5" fill="url(#gp)"/>
<line x1="654.5" y1="483.20" x2="656.8" y2="483.20" stroke="#fff" stroke-width="0.6"/>
<line x1="663.8" y1="483.20" x2="668.4" y2="483.20" stroke="#fff" stroke-width="0.6"/>
<line x1="675.4" y1="483.20" x2="677.7" y2="483.20" stroke="#fff" stroke-width="0.6"/>
<line x1="654.5" y1="498.20" x2="656.8" y2="498.20" stroke="#fff" stroke-width="0.6"/>
<line x1="663.8" y1="498.20" x2="668.4" y2="498.20" stroke="#fff" stroke-width="0.6"/>
<line x1="675.4" y1="498.20" x2="677.7" y2="498.20" stroke="#fff" stroke-width="0.6"/>
<line x1="654.5" y1="513.20" x2="656.8" y2="513.20" stroke="#fff" stroke-width="0.6"/>
<line x1="663.8" y1="513.20" x2="668.4" y2="513.20" stroke="#fff" stroke-width="0.6"/>
<line x1="675.4" y1="513.20" x2="677.7" y2="513.20" stroke="#fff" stroke-width="0.6"/>
<line x1="654.5" y1="528.20" x2="656.8" y2="528.20" stroke="#fff" stroke-width="0.6"/>
<line x1="663.8" y1="528.20" x2="668.4" y2="528.20" stroke="#fff" stroke-width="0.6"/>
<line x1="675.4" y1="528.20" x2="677.7" y2="528.20" stroke="#fff" stroke-width="0.6"/>
<text x="653.3" y="488.20" font-size="10.5" text-anchor="end">10</text>
<text x="678.8" y="488.20" font-size="10.5">8</text>
<text x="653.3" y="502.50" font-size="10.5" text-anchor="end">7.5</text>
<text x="678.8" y="502.50" font-size="10.5">6</text>
<text x="653.3" y="517.80" font-size="10.5" text-anchor="end">5</text>
<text x="678.8" y="517.80" font-size="10.5">4</text>
<text x="653.3" y="532.30" font-size="10.5" text-anchor="end">2.5</text>
<text x="678.8" y="532.30" font-size="10.5">2</text>
<text x="653.3" y="544.50" font-size="10.5" text-anchor="end">0</text>
<text x="678.8" y="544.50" font-size="10.5">0</text>
<text x="648.5" y="473.8" font-size="10.1">-log<tspan font-size="5.8" dy="2.8">10</tspan><tspan dy="-2.8">(</tspan><tspan font-style="italic">P</tspan>)</text>
</svg></body></html>
